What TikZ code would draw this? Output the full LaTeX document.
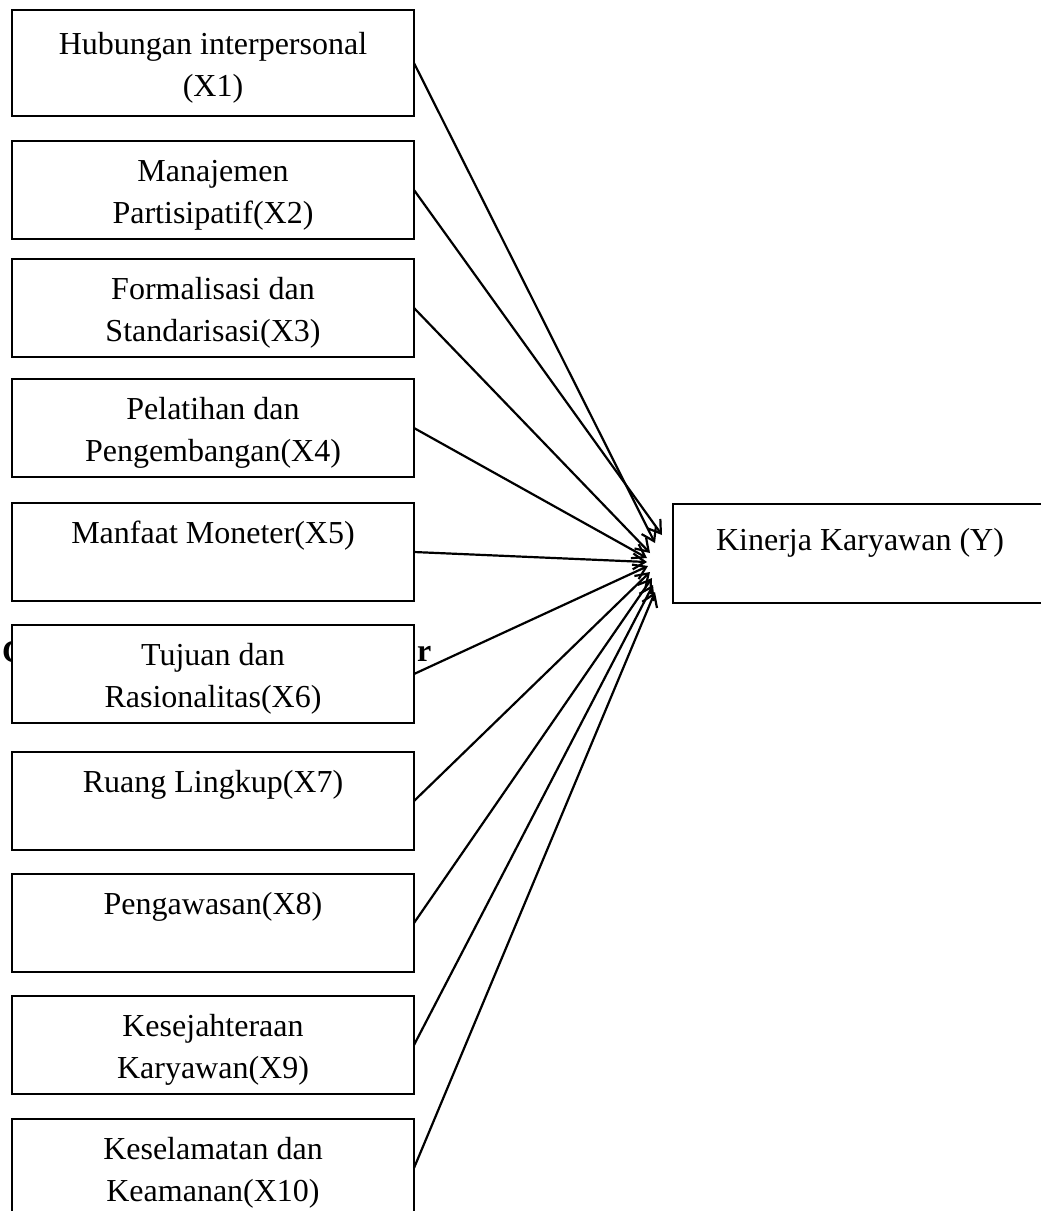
\documentclass[tikz,border=0pt]{standalone}
\usepackage{fontspec}
\setmainfont{Liberation Serif}
\usetikzlibrary{arrows.meta,positioning}

\begin{document}
\begin{tikzpicture}[x=1pt,y=-1pt,>={Straight Barb[length=12pt,width=16pt]},
  var/.style={draw,line width=2.6pt,fill=white,minimum width=402pt,minimum height=98pt,
    inner sep=0pt,outer sep=0pt,align=center,text height=78pt,text depth=12pt,
    font=\fontsize{32}{42}\selectfont},
  link/.style={->,line width=2.2pt}]
  \useasboundingbox (0,0) rectangle (1041,1211);
  \fill[white] (0,0) rectangle (1041,1211);

  % caption left behind the boxes
  \node[anchor=base west,inner sep=0pt,font=\fontsize{32}{36}\selectfont\bfseries] (capl) at (2,662) {C};
  \node[anchor=base west,inner sep=0pt,font=\fontsize{32}{36}\selectfont\bfseries] (capr) at (417,661) {r};

  \node[var,minimum height=106pt] (x1) at (213,63) {Hubungan interpersonal\\(X1)};
  \node[var] (x2) [below=25pt of x1] {Manajemen\\Partisipatif(X2)};
  \node[var] (x3) [below=20pt of x2] {Formalisasi dan\\Standarisasi(X3)};
  \node[var] (x4) [below=22pt of x3] {Pelatihan dan\\Pengembangan(X4)};
  \node[var] (x5) [below=26pt of x4] {Manfaat Moneter(X5)\\~};
  \node[var] (x6) [below=24pt of x5] {Tujuan dan\\Rasionalitas(X6)};
  \node[var] (x7) [below=29pt of x6] {Ruang Lingkup(X7)\\~};
  \node[var] (x8) [below=24pt of x7] {Pengawasan(X8)\\~};
  \node[var] (x9) [below=24pt of x8] {Kesejahteraan\\Karyawan(X9)};
  \node[var] (x10) [below=25pt of x9] {Keselamatan dan\\Keamanan(X10)};

  \node[var,minimum width=374pt,minimum height=99pt,text height=84pt,text depth=6pt,anchor=west] (y) at (673,553.5) {Kinerja Karyawan (Y)\\~};

  % arrow tips in front of y
  \coordinate (t1) at (655,543);
  \coordinate (t2) at (662,535);
  \coordinate (t3) at (650,553);
  \coordinate (t4) at (647,558);
  \coordinate (t5) at (647,562);
  \coordinate (t6) at (648,566);
  \coordinate (t7) at (650,572);
  \coordinate (t8) at (652,578);
  \coordinate (t9) at (653,585);
  \coordinate (t10) at (655,592);

  \foreach \i in {1,...,10}
    \draw[link] (x\i.east) -- (t\i);
\end{tikzpicture}
\end{document}
